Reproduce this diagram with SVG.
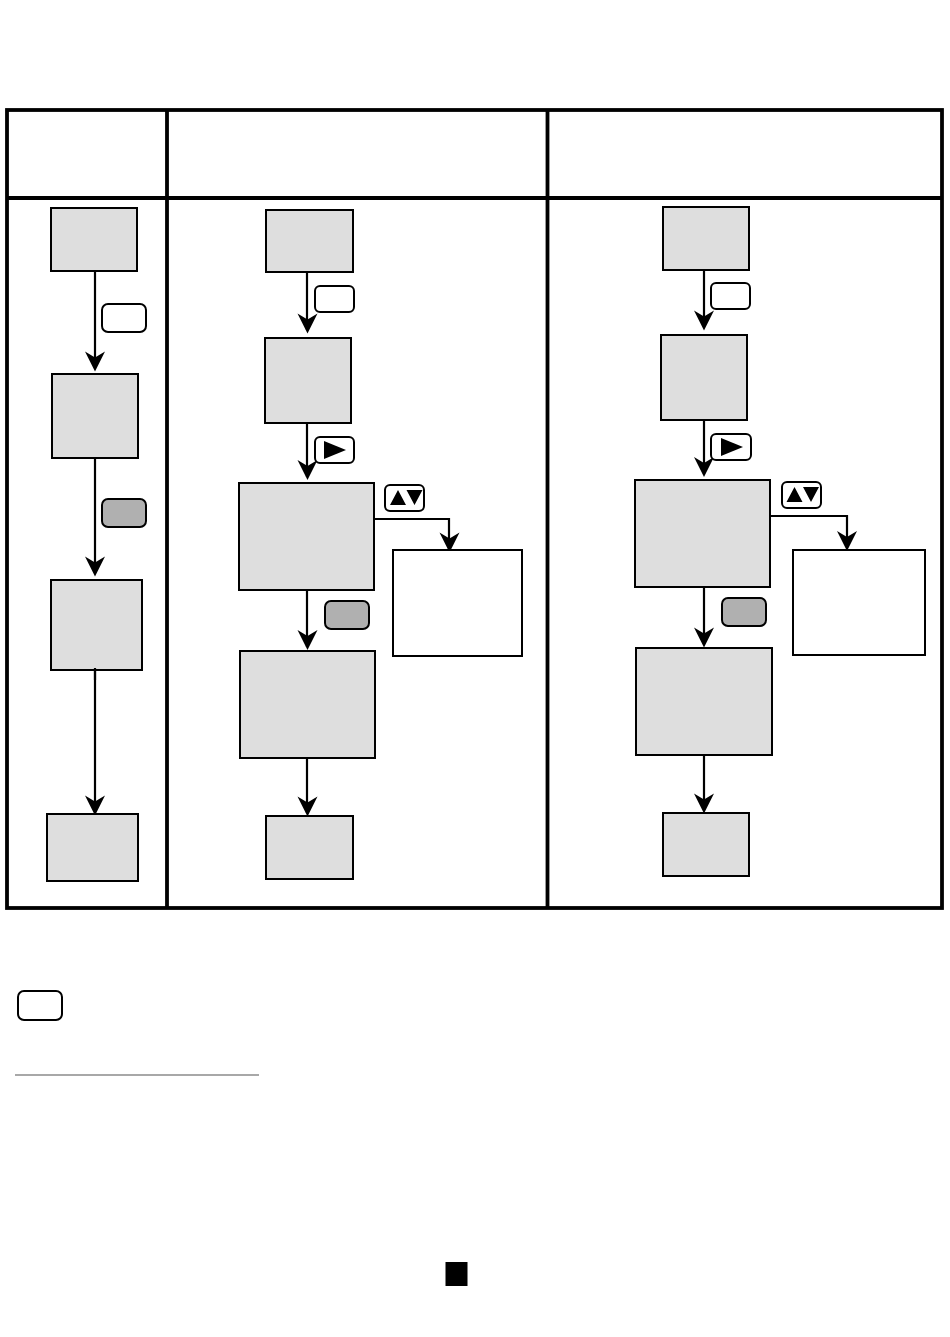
<svg xmlns="http://www.w3.org/2000/svg" width="950" height="1337" viewBox="0 0 950 1337">
<style>
.grid{fill:none;stroke:#000;stroke-width:3.8}
.n{fill:#dedede;stroke:#000;stroke-width:2}
.w{fill:#fff;stroke:#000;stroke-width:2}
.kw{fill:#fff;stroke:#000;stroke-width:2}
.kg{fill:#b0b0b0;stroke:#000;stroke-width:2}
.c{fill:none;stroke:#000;stroke-width:2.200}
</style>
<defs>
<path id="ah" d="M0 0L-10 -20L0 -14L10 -20Z" fill="#000"/>
</defs>
<rect width="950" height="1337" fill="#fff"/>
<g id="table" class="grid">
<rect x="7" y="110" width="935" height="798"/>
<path d="M7 198H942M167 110V908M547.500 110V908"/>
</g>
<g id="connectors">
<path class="c" d="M95 271V368M95 458V573M95 668V812M307 272V330M307 423V477M307 590V647M307 758V813M374 519H449V549M704 268V327M704 420V474M704 587V644M704 755V810M770 516H847V547"/>
<use href="#ah" x="95" y="371.500"/>
<use href="#ah" x="95" y="576.500"/>
<use href="#ah" x="95" y="815.500"/>
<use href="#ah" x="307.500" y="333.500"/>
<use href="#ah" x="307.500" y="480"/>
<use href="#ah" x="307.500" y="650"/>
<use href="#ah" x="307.500" y="816.500"/>
<use href="#ah" x="449.500" y="552.500"/>
<use href="#ah" x="704" y="330.500"/>
<use href="#ah" x="704" y="477"/>
<use href="#ah" x="704" y="647.500"/>
<use href="#ah" x="704" y="813.500"/>
<use href="#ah" x="847" y="551"/>
</g>
<g id="col1">
<rect id="n1" class="n" x="51" y="208" width="86" height="63"/>
<rect id="n2" class="n" x="52" y="374" width="86" height="84"/>
<rect id="n3" class="n" x="51" y="580" width="91" height="90"/>
<rect id="n4" class="n" x="47" y="814" width="91" height="67"/>
<path class="c" d="M95 668V680"/>
</g>
<g id="col2">
<rect id="n5" class="n" x="266" y="210" width="87" height="62"/>
<rect id="n6" class="n" x="265" y="338" width="86" height="85"/>
<rect id="n7" class="n" x="239" y="483" width="135" height="107"/>
<rect id="n8" class="n" x="240" y="651" width="135" height="107"/>
<rect id="n9" class="n" x="266" y="816" width="87" height="63"/>
<rect id="n10" class="w" x="393" y="550" width="129" height="106"/>
</g>
<g id="col3">
<rect id="n11" class="n" x="663" y="207" width="86" height="63"/>
<rect id="n12" class="n" x="661" y="335" width="86" height="85"/>
<rect id="n13" class="n" x="635" y="480" width="135" height="107"/>
<rect id="n14" class="n" x="636" y="648" width="136" height="107"/>
<rect id="n15" class="n" x="663" y="813" width="86" height="63"/>
<rect id="n16" class="w" x="793" y="550" width="132" height="105"/>
</g>
<g id="keys">
<rect id="k1" class="kw" x="102" y="304" width="44" height="28" rx="6"/>
<rect id="k2" class="kg" x="102" y="499" width="44" height="28" rx="6"/>
<rect id="k3" class="kw" x="315" y="286" width="39" height="26" rx="5"/>
<g id="k4"><rect class="kw" x="315" y="437" width="39" height="26" rx="5"/><path d="M324 441L346 450L324 459Z"/></g>
<g id="k5"><rect class="kw" x="385" y="485" width="39" height="26" rx="5"/><path d="M390 505L398 490L406 505ZM406.500 490H422.500L414.500 505Z"/></g>
<rect id="k6" class="kg" x="325" y="601" width="44" height="28" rx="6"/>
<rect id="k7" class="kw" x="711" y="283" width="39" height="26" rx="5"/>
<g id="k8"><rect class="kw" x="711" y="434" width="40" height="26" rx="5"/><path d="M721 438L743 447L721 456Z"/></g>
<g id="k9"><rect class="kw" x="782" y="482" width="39" height="26" rx="5"/><path d="M786.500 502L794.500 487L802.500 502ZM803 487H819L811 502Z"/></g>
<rect id="k10" class="kg" x="722" y="598" width="44" height="28" rx="6"/>
<rect id="k11" class="kw" x="18" y="991" width="44" height="29" rx="6"/>
</g>
<rect id="rule" x="15" y="1074" width="244" height="2" fill="#a8a8a8"/>
<rect id="mark" x="445.500" y="1262" width="22" height="24" fill="#000"/>
</svg>
